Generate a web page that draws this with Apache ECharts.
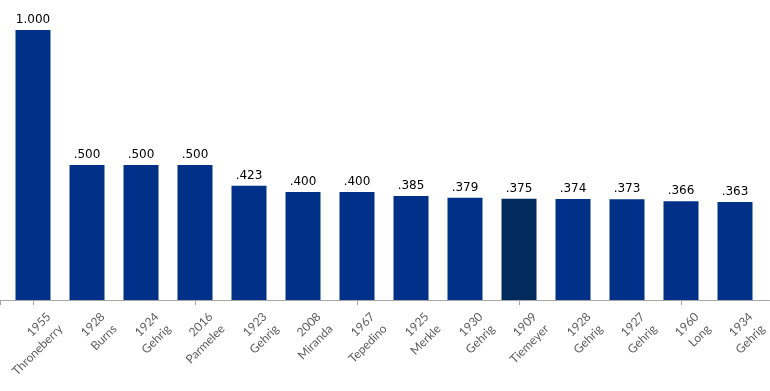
<!DOCTYPE html>
<html>
<head>
<meta charset="utf-8">
<script src="https://cdn.jsdelivr.net/npm/echarts@6/dist/echarts.min.js"></script>
<style>html,body{margin:0;padding:0;background:#fff}#c{width:770px;height:391px}</style>
</head>
<body>
<div id="c"></div>
<script>
var years = ['1955','1928','1924','2016','1923','2008','1967','1925','1930','1909','1928','1927','1960','1934'];
var names = ['Throneberry','Burns','Gehrig','Parmelee','Gehrig','Miranda','Tepedino','Merkle','Gehrig','Tiemeyer','Gehrig','Gehrig','Long','Gehrig'];
var values = [1.000,0.500,0.500,0.500,0.423,0.400,0.400,0.385,0.379,0.375,0.374,0.373,0.366,0.363];
var highlightIndex = 9;

var categories = years.map(function(y,i){ return y + ' ' + names[i]; });

function axisTextSeries(texts, pos){
  return {
    type: 'scatter',
    silent: true,
    symbol: 'rect',
    symbolSize: 1,
    itemStyle: {color: 'rgba(0,0,0,0)'},
    data: categories.map(function(c){ return [c, 0]; }),
    label: {
      show: true,
      position: pos,
      rotate: 45,
      align: 'right',
      verticalAlign: 'top',
      color: '#333',
      fontFamily: 'Lato',
      fontSize: 12,
      formatter: function(p){ return texts[p.dataIndex]; }
    }
  };
}

var chart = echarts.init(document.getElementById('c'), null, {renderer:'canvas'});
chart.setOption({
  animation: false,
  grid: {left: 6, right: 8, top: 30, bottom: 91, containLabel: false, outerBoundsMode: 'none'},
  graphic: [{
    type: 'line', silent: true, z: 0,
    shape: {x1: 0, y1: 300.5, x2: 770, y2: 300.5},
    style: {stroke: '#A6A6A6', lineWidth: 1}
  },{
    type: 'line', silent: true, z: 0,
    shape: {x1: 0.5, y1: 300, x2: 0.5, y2: 305},
    style: {stroke: '#A6A6A6', lineWidth: 1}
  }],
  xAxis: {
    type: 'category',
    data: categories,
    axisLine: {show: true, lineStyle: {color: '#A6A6A6'}},
    axisTick: {show: true, alignWithLabel: true, length: 5, lineStyle: {color: '#A6A6A6'}},
    axisLabel: {show: false}
  },
  yAxis: {
    type: 'value', min: 0, max: 1,
    show: false,
    splitLine: {show: false}
  },
  series: [{
    type: 'bar',
    barWidth: 35,
    data: values.map(function(v,i){
      return {value: v, itemStyle: {color: i === highlightIndex ? '#002B5C' : '#003087'}};
    }),
    label: {
      show: true, position: 'top', distance: 4,
      color: '#000', fontFamily: 'DejaVu Sans', fontSize: 12,
      formatter: function(p){
        var s = p.value.toFixed(3);
        return s.charAt(0) === '0' ? s.slice(1) : s;
      }
    }
  },
  axisTextSeries(years, [12, 11]),
  axisTextSeries(names, [24, 23])
  ]
});
</script>
</body>
</html>
